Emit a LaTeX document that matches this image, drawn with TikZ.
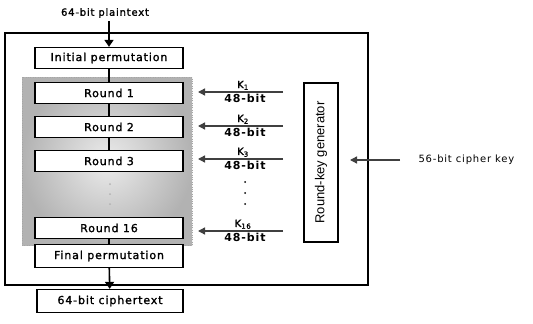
\documentclass[tikz,border=0pt]{standalone}
\usepackage{fontspec}
\setmainfont{DejaVu Sans}[LetterSpace=8]
\newfontfamily\semib{DejaVu Sans}[LetterSpace=8,FakeBold=1.4]
\newfontfamily\rkfont{Liberation Sans}
\usetikzlibrary{arrows.meta}
\begin{document}
\begin{tikzpicture}[x=1pt,y=-1pt,
  blk/.style={draw,line width=1.3pt,fill=white,minimum width=148pt,minimum height=21pt,inner sep=0pt,font=\semib\fontsize{11}{12}\selectfont},
  link/.style={line width=1.6pt},
  bigarr/.style={line width=1.6pt,-{Triangle[length=7pt,width=9pt]}},
  keyarr/.style={line width=1.3pt,draw=black!75,-{Triangle[length=7pt,width=7pt]}},
  klab/.style={font=\semib\fontsize{10}{12}\selectfont,inner sep=1pt},
  blab/.style={font=\fontsize{11}{12}\selectfont\bfseries,inner sep=1pt},
  dotc/.style={circle,fill,inner sep=0pt,minimum size=2pt}]
\useasboundingbox (0,0) rectangle (533,324);
% frame
\draw[line width=1.6pt] (5,33) rectangle (368,285);
% gray rounds area
\shade[inner color=gray!15,outer color=gray!60,draw=gray!70,dotted] (22,77) rectangle (192,245);
\node[font=\semib\fontsize{10}{10}\selectfont] (pt) at (105,13) {64-bit plaintext};
\node[blk] (ip) at (109,58) {Initial permutation};
\node[blk] (r1) at (109,93) {Round 1};
\node[blk] (r2) at (109,127) {Round 2};
\node[blk] (r3) at (109,161) {Round 3};
\node[blk] (r16) at (109,228) {Round 16};
\node[blk,minimum height=23pt] (fp) at (109,256) {Final permutation};
\node[blk,minimum height=23pt,minimum width=146pt] (ct) at (110,301) {64-bit ciphertext};
\foreach \i/\yy in {a/184,b/194,c/204}{\node[dotc,fill=gray!60] (gd\i) at (110,\yy) {};}
\draw[link] (ip) -- (r1);
\draw[link] (r1) -- (r2);
\draw[link] (r2) -- (r3);
\draw[link] (r16) -- (fp);
\draw[bigarr] (pt.south -| ip.north) -- (ip.north);
\draw[bigarr] (fp) -- (ct);
% round-key generator
\node[draw,line width=1.3pt,minimum width=34pt,minimum height=159pt,inner sep=0pt] (rkg) at (321,162.5) {};
\node[rotate=90,font=\rkfont\fontsize{13}{14}\selectfont] (rkgt) at (rkg.center) {Round-key generator};
% key arrows
\foreach \n/\yy/\lab in {1/92/1,2/126/2,3/159/3,16/231/16}{
  \coordinate (ks\n) at (283,\yy);
  \coordinate (ke\n) at (198,\yy);
  \draw[keyarr] (ks\n) -- (ke\n);
  \node[klab,anchor=south] (kl\n) at (243,\yy-1) {K\textsubscript{\lab}};
  \node[blab,anchor=north] (kb\n) at (245,\yy+1) {48-bit};
}
\foreach \i/\yy in {a/182,b/193,c/204}{\node[dotc] (kd\i) at (245,\yy) {};}
% cipher key
\node[font=\fontsize{10}{10}\selectfont,anchor=west] (ck) at (415,160) {56-bit cipher key};
\coordinate (cks) at (400,160);
\coordinate (cke) at (350,160);
\draw[keyarr] (cks) -- (cke);
\end{tikzpicture}
\end{document}
